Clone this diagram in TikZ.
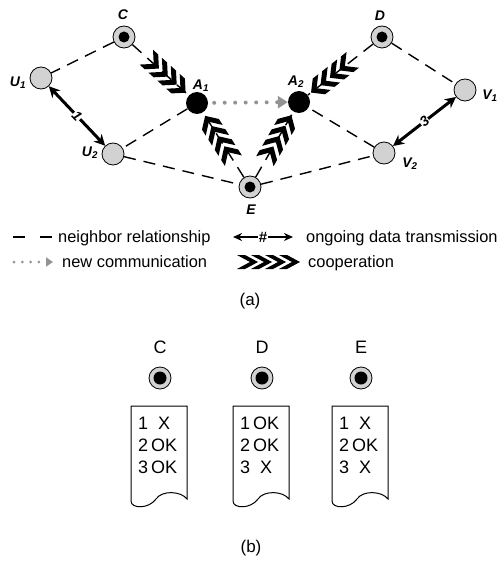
\documentclass[tikz,border=0pt]{standalone}
\usepackage{fontspec}
\setmainfont{Liberation Sans}
\usetikzlibrary{arrows.meta, decorations.markings}

\newcommand{\nname}[2]{\textbf{\textit{#1\textsubscript{#2}}}}
\newcommand{\chevron}{\fill (0pt,0pt) -- (-10pt,10pt) -- (-17pt,10pt) -- (-7pt,0pt) -- (-17pt,-10pt) -- (-10pt,-10pt) -- cycle;}
\newcommand{\chevleg}{\fill (0pt,0pt) -- (-13pt,7pt) -- (-21pt,7pt) -- (-8pt,0pt) -- (-21pt,-7pt) -- (-13pt,-7pt) -- cycle;}

\tikzset{
  nbr/.style = {circle, draw, line width=0.8pt, fill=gray!35, minimum size=22pt, inner sep=0pt},
  talker/.style = {circle, fill=black, minimum size=22pt, inner sep=0pt},
  lbl/.style = {font=\fontsize{14}{16}\selectfont\bfseries\itshape, inner sep=0pt},
  num/.style = {font=\fontsize{14}{16}\selectfont\bfseries\itshape, fill=white, inner sep=0.5pt},
  legtxt/.style = {font=\fontsize{16.4}{19}\selectfont, inner sep=0pt},
  captxt/.style = {font=\fontsize{18}{22}\selectfont, inner sep=0pt},
  doctxt/.style = {font=\fontsize{18}{22}\selectfont, inner sep=0pt},
  neigh/.style = {line width=1.4pt, dash pattern=on 12pt off 8pt},
  newcom/.style = {gray!85, line width=4pt, line cap=round, dash pattern=on 0pt off 10.5pt,
    -{Triangle[length=10pt, width=12pt]}},
  ongoing/.style = {line width=3pt, {Stealth[length=11pt, width=11pt]}-{Stealth[length=11pt, width=11pt]}},
  coop/.style = {postaction={decorate, decoration={markings,
    mark=at position -4pt with {\chevron},
    mark=at position -16pt with {\chevron},
    mark=at position -28pt with {\chevron},
    mark=at position -40pt with {\chevron}}}},
  coopleg/.style = {postaction={decorate, decoration={markings,
    mark=at position -1pt with {\chevleg},
    mark=at position -15pt with {\chevleg},
    mark=at position -29pt with {\chevleg},
    mark=at position -43pt with {\chevleg}}}}
}

\begin{document}
\begin{tikzpicture}[x=1pt, y=-1pt]
\useasboundingbox (0,0) rectangle (501,567);
% part (a)
\node[nbr] (C) at (124,37) {};
\node[nbr] (D) at (382,37) {};
\node[nbr] (E) at (250,187) {};
\node[nbr] (U1) at (41,78) {};
\node[nbr] (U2) at (113,154) {};
\node[nbr] (V1) at (465,90) {};
\node[nbr] (V2) at (384,153) {};
\node[talker] (A1) at (197,103) {};
\node[talker] (A2) at (299,102) {};
\foreach \n in {C,D,E} \fill (\n) circle (5.5pt); % relays

\node[lbl] (lC) at (123,15) {C};
\node[lbl] (lD) at (380,16) {D};
\node[lbl] (lE) at (251,210) {E};
\node[lbl] (lU1) at (18,83) {\nname{U}{1}};
\node[lbl] (lU2) at (90,153) {\nname{U}{2}};
\node[lbl] (lA1) at (201,86) {\nname{A}{1}};
\node[lbl] (lA2) at (296,82) {\nname{A}{2}};
\node[lbl] (lV1) at (490,96) {\nname{V}{1}};
\node[lbl] (lV2) at (410,164) {\nname{V}{2}};

\draw[neigh] (C) -- (U1);
\draw[neigh] (A1) -- (U2);
\draw[neigh] (U2) -- (E);
\draw[neigh] (E) -- (V2);
\draw[neigh] (V2) -- (A2);
\draw[neigh] (D) -- (V1);

\draw[neigh, coop] (C) -- (A1);
\draw[neigh, coop] (D) -- (A2);
\draw[neigh, coop] (E) -- (A1);
\draw[neigh, coop] (E) -- (A2);

\draw[ongoing] (U1) -- node[num, sloped] {1} (U2);
\draw[ongoing] (V2) -- node[num, sloped] {3} (V1);
\draw[newcom, shorten <=6pt] (A1) -- (A2);

% legend
\coordinate (nb1) at (13,237);
\coordinate (nb2) at (52,237);
\draw[line width=2pt, dash pattern=on 12pt off 15pt] (nb1) -- (nb2);
\node[legtxt, anchor=base west] (tnb) at (58,242) {neighbor relationship};

\coordinate (od1) at (233,237);
\coordinate (od2) at (293,237);
\draw[line width=2pt, {Stealth[length=9pt, width=8pt]}-{Stealth[length=9pt, width=8pt]}] (od1) -- node[fill=white, inner sep=0.5pt, font=\fontsize{15}{15}\selectfont\bfseries] {\#} (od2);
\node[legtxt, anchor=base west] (tod) at (306,242) {ongoing data transmission};

\coordinate (nc1) at (14,262);
\coordinate (nc2) at (53,262);
\draw[gray!85, line width=3pt, line cap=round, dash pattern=on 0pt off 8.3pt,
  -{Triangle[length=7pt, width=9pt]}] (nc1) -- (nc2);
\node[legtxt, anchor=base west] (tnc) at (62,267) {new communication};

\coordinate (co1) at (233,262);
\coordinate (co2) at (301,262);
\path[coopleg] (co1) -- (co2);
\node[legtxt, anchor=base west] (tco) at (308,267) {cooperation};

\node[font=\fontsize{17}{20}\selectfont] (capa) at (250,301) {(a)};

% part (b)
\foreach \xl/\n/\a/\b/\c in {131/C/X/OK/OK, 233/D/OK/OK/X, 332/E/X/OK/X} {
  \node[captxt] (t\n) at (\xl+29,347) {\n};
  \node[nbr] (c\n) at (\xl+29,378) {};
  \fill (c\n) circle (6.5pt);
  \draw[line width=1pt] (\xl,406) -- (\xl,501) .. controls (\xl,509) and (\xl+18,509) .. (\xl+25,499)
    .. controls (\xl+31,490) and (\xl+50,491) .. (\xl+56,499) -- (\xl+56,406) -- cycle;
  \node[doctxt, anchor=west] (doc\n) at (\xl+7,447)
    {\begin{tabular}{@{}l@{\hspace{3pt}}c@{}}1&\a\\2&\b\\3&\c\end{tabular}};
}

\node[font=\fontsize{17}{20}\selectfont] (capb) at (251,548) {(b)};
\end{tikzpicture}
\end{document}
